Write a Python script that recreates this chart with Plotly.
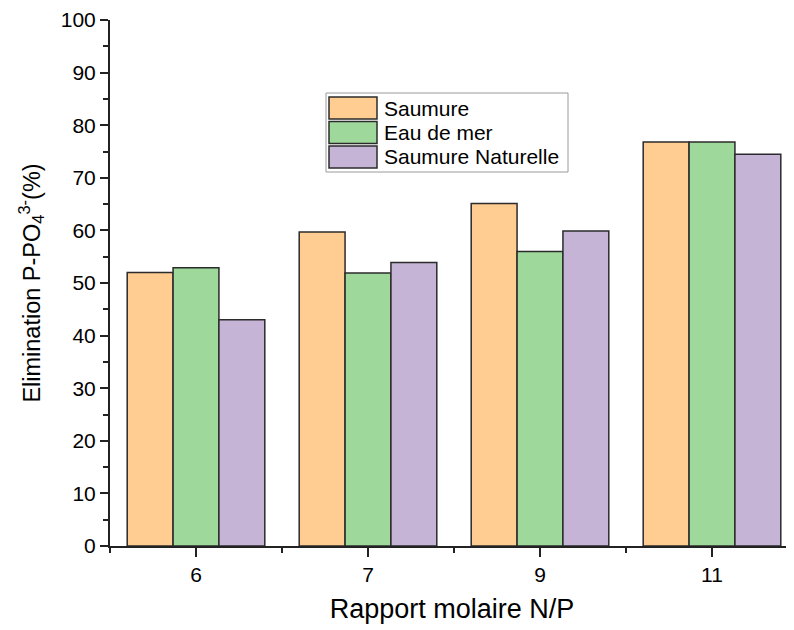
import plotly.graph_objects as go

categories = ["6", "7", "9", "11"]
series_names = ["Saumure", "Eau de mer", "Saumure Naturelle"]
saumure = [52.0, 59.7, 65.1, 76.8]
eau_de_mer = [52.9, 51.9, 56.0, 76.8]
saumure_naturelle = [43.0, 53.9, 59.9, 74.5]
colors = ["#FFCC91", "#9ED89B", "#C5B4D6"]
y_ticks = list(range(0, 101, 10))

OFF = 8  # page body margin
W, H = 794 - OFF, 630 - OFF
L, R, T, B = 110 - OFF, 0, 20 - OFF, 630 - 546
pw, ph = W - L - R, H - T - B

fig = go.Figure()
xpos = list(range(len(categories)))
for name, vals, col in zip(series_names, [saumure, eau_de_mer, saumure_naturelle], colors):
    fig.add_trace(go.Bar(x=xpos, y=vals, name=name, marker=dict(color=col, line=dict(color="#2b2b2b", width=1.5)),
                         showlegend=False))

font = "Liberation Sans, Arial, sans-serif"

def px_x(px):
    return (px - OFF - L) / pw

def px_y(py):
    return (546 - py) / ph

# manual legend (bigger swatches like the reference)
shapes = [dict(type="rect", xref="paper", yref="paper", x0=px_x(326), x1=px_x(568), y0=px_y(172), y1=px_y(93),
               line=dict(color="#9a9a9a", width=1), fillcolor="white", layer="above")]
annotations = []
for i, (name, col) in enumerate(zip(series_names, colors)):
    top = 97 + i * 24.5
    shapes.append(dict(type="rect", xref="paper", yref="paper", x0=px_x(329), x1=px_x(377), y0=px_y(top + 22), y1=px_y(top),
                       line=dict(color="#2b2b2b", width=1.5), fillcolor=col, layer="above"))
    annotations.append(dict(xref="paper", yref="paper", x=px_x(382), y=px_y(top + 11), xanchor="left", yanchor="middle",
                            text=name, showarrow=False, font=dict(family=font, size=21, color="black")))

fig.update_layout(
    width=W, height=H,
    margin=dict(l=L, r=R, t=T, b=B),
    paper_bgcolor="white", plot_bgcolor="white",
    barmode="group", bargap=0.2, bargroupgap=0,
    font=dict(family=font, color="black"),
    shapes=shapes, annotations=annotations,
    xaxis=dict(range=[-0.5, -0.5 + pw / 172.0], tickmode="array", tickvals=xpos, ticktext=categories,
               showline=True, linecolor="#222", linewidth=2, ticks="outside", ticklen=9, tickwidth=2, tickcolor="#222",
               minor=dict(tickmode="array", tickvals=[-0.5, 0.5, 1.5, 2.5, 3.5], ticks="outside", ticklen=5, tickwidth=2, tickcolor="#222"),
               showgrid=False, zeroline=False, tickfont=dict(size=21),
               title=dict(text="Rapport molaire N/P", font=dict(size=27), standoff=14)),
    yaxis=dict(range=[0, 100], tickmode="array", tickvals=y_ticks, showline=True, linecolor="#222", linewidth=2,
               ticks="outside", ticklen=8, tickwidth=2, tickcolor="#222",
               minor=dict(tickmode="linear", tick0=0, dtick=5, ticks="outside", ticklen=5, tickwidth=2, tickcolor="#222"),
               showgrid=False, zeroline=False, tickfont=dict(size=21),
               title=dict(text="Elimination P-PO<sub>4</sub><sup>3-</sup>(%)", font=dict(size=23.5), standoff=14)),
)

fig.write_html("out.html")
